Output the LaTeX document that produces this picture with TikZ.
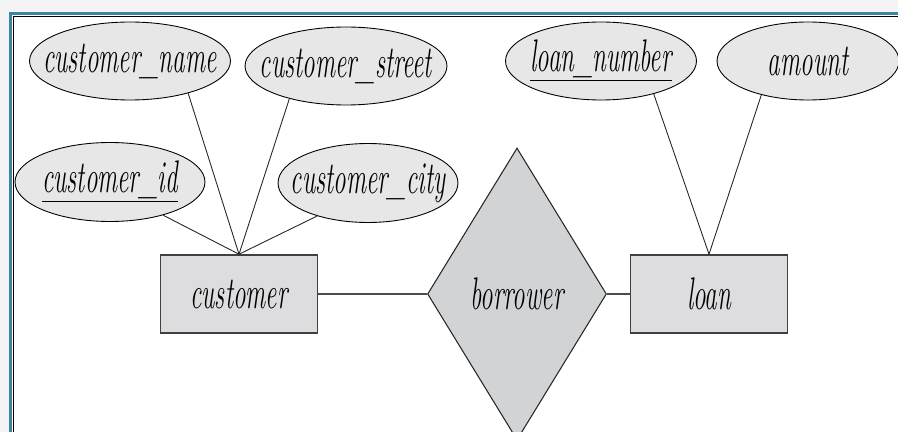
\documentclass[tikz,border=0pt]{standalone}
\usepackage{graphicx}
\usetikzlibrary{shapes.geometric}
\definecolor{pagebg}{RGB}{244,244,244}
\definecolor{frameteal}{RGB}{58,134,160}
\definecolor{attrfill}{RGB}{231,231,231}
\definecolor{entfill}{RGB}{221,221,223}
\definecolor{relfill}{RGB}{209,211,213}
\newcommand{\erlabel}[1]{\makebox[0pt]{\scalebox{0.55}[1]{#1}}}
\tikzset{
	erfont/.style={font=\fontsize{26}{30}\selectfont\itshape},
	attr/.style={ellipse, draw=black, line width=0.5pt, fill=attrfill, inner sep=0pt, erfont},
	entity/.style={rectangle, draw=black!75, line width=0.9pt, fill=entfill, inner sep=0pt, minimum width=3.14cm, minimum height=1.56cm, erfont},
	rel/.style={diamond, draw=black!85, line width=0.6pt, fill=relfill, inner sep=0pt, erfont},
	link/.style={draw=black!85, line width=0.5pt},
	rellink/.style={draw=black!70, line width=0.9pt}
}
\begin{document}
\begin{tikzpicture}[x=0.02cm,y=-0.02cm]
		\clip (0,0) rectangle (898,432);
		\fill[pagebg] (0,0) rectangle (898,432);
		\fill[white] (12,15) rectangle (898,432);
		\draw[frameteal, line width=0.05cm] (10.5,432) -- (10.5,13.5) -- (898,13.5);
		\draw[black, line width=0.03cm] (13.5,432) -- (13.5,16.5) -- (898,16.5);

		\node[attr, minimum width=4.02cm, minimum height=1.56cm] (cname) at (130,61) {\erlabel{customer\_name}};
		\node[attr, minimum width=4.04cm, minimum height=1.56cm] (cstreet) at (346,66) {\erlabel{customer\_street}};
		\node[attr, minimum width=3.8cm, minimum height=1.58cm] (cid) at (110,182) {\erlabel{\underline{customer\_id}}};
		\node[attr, minimum width=3.6cm, minimum height=1.58cm] (ccity) at (368,183) {\erlabel{customer\_city}};
		\node[attr, minimum width=3.82cm, minimum height=1.56cm] (lnumber) at (601,61) {\erlabel{\underline{loan\_number}}};
		\node[attr, minimum width=3.64cm, minimum height=1.56cm] (amount) at (808,61) {\erlabel{amount}};

		\node[entity] (customer) at (239,294) {\erlabel{customer}};
		\node[entity] (loan) at (709,294) {\erlabel{loan}};
		\node[rel, minimum width=3.58cm, minimum height=5.84cm] (borrower) at (517,294) {\erlabel{borrower}};

		\draw[link] (cname.-29) -- (customer.north);
		\draw[link] (cstreet.-150) -- (customer.north);
		\draw[link] (cid.-32) -- (customer.north);
		\draw[link] (ccity.-147) -- (customer.north);
		\draw[link] (lnumber.-32) -- (loan.north);
		\draw[link] (amount.-144) -- (loan.north);
		\draw[rellink] (customer.east) -- (borrower.west);
		\draw[rellink] (borrower.east) -- (loan.west);
	\end{tikzpicture}
\end{document}
